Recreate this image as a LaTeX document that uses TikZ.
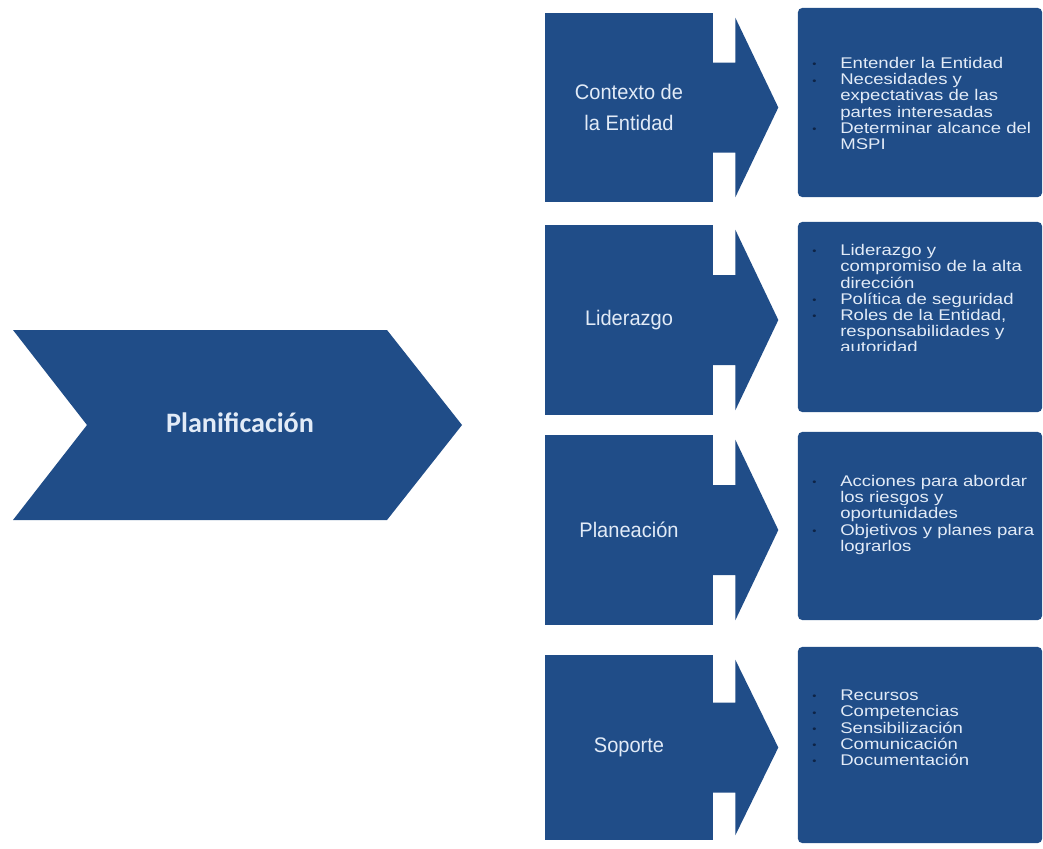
\documentclass[tikz,border=0pt]{standalone}
\usepackage{fontspec}
\setmainfont{Liberation Sans}
\newfontfamily\lblfont[FakeStretch=0.95]{Liberation Sans}
\newfontfamily\lstfont[FakeStretch=1.2]{Liberation Sans}
\newfontfamily\ttlfont{Carlito}
\usepackage{tikz}
\usetikzlibrary{calc}
\definecolor{stgclr}{RGB}{32,77,136}
\definecolor{txtclr}{RGB}{226,235,247}
\definecolor{dotclr}{RGB}{14,36,70}
\tikzset{ %
  ,stage/.style={fill=stgclr, inner sep=0, minimum width=4.2cm, text=txtclr, align=center, font=\lblfont\fontsize{15}{22}\selectfont}
  ,note/.style={fill=stgclr, rounded corners=3pt, inner sep=0, minimum width=6.1cm}
  ,items/.style={anchor=north west, inner sep=0, text=txtclr, font=\lstfont\fontsize{11}{11.5}\selectfont}
  ,title/.style={text=txtclr, font=\ttlfont\bfseries\fontsize{20}{24}\selectfont}
}
\newcommand{\bl}{\leavevmode\textcolor{dotclr}{\raisebox{0.5pt}{\scriptsize\textbullet}}}
\newcommand{\stgarrow}[1]{%
  \fill[stgclr] ($(#1.east)+(-4,-45)$) -- ($(#1.east)+(22,-45)$) -- ($(#1.north east)+(22,5)$)
    -- ($(#1.east)+(65,0)$) -- ($(#1.south east)+(22,-5)$) -- ($(#1.east)+(22,45)$) -- ($(#1.east)+(-4,45)$) -- cycle;}

\begin{document}
\begin{tikzpicture}[x=0.025cm, y=-0.025cm]
    \useasboundingbox (0,0) rectangle (1043,848);
    % chevron
    \fill[stgclr] (13,330) -- (387,330) -- (462,425) -- (387,520) -- (13,520) -- (87,425) -- cycle;
    \node[title] (plan) at (240,423) {Planificación};
    % stages
    \node[stage, minimum height=4.725cm] (ctx) at (629,107.5) {Contexto de\\la Entidad};
    \node[stage, minimum height=4.75cm] (lid) at (629,320) {Liderazgo};
    \node[stage, minimum height=4.75cm] (pla) at (629,530) {Planeación};
    \node[stage, minimum height=4.625cm] (sop) at (629,747.5) {Soporte};
    \stgarrow{ctx}
    \stgarrow{lid}
    \stgarrow{pla}
    \stgarrow{sop}
    % notes
    \node[note, minimum height=4.725cm] (ctxn) at (920,102.5) {};
    \node[note, minimum height=4.75cm] (lidn) at (920,317) {};
    \node[note, minimum height=4.7cm] (plan2) at (920,526) {};
    \node[note, minimum height=4.9cm] (sopn) at (920,745) {};
    \node[items] (ctxt) at (812,57) {\begin{tabular}{@{}p{0.7cm}@{}l@{}}
      \bl & Entender la Entidad\\
      \bl & Necesidades y\\
          & expectativas de las\\
          & partes interesadas\\
      \bl & Determinar alcance del\\
          & MSPI
    \end{tabular}};
    \begin{scope}
      \clip (800,230) rectangle (1040,350);
      \node[items] (lidt) at (812,244) {\begin{tabular}{@{}p{0.7cm}@{}l@{}}
        \bl & Liderazgo y\\
            & compromiso de la alta\\
            & dirección\\
        \bl & Política de seguridad\\
        \bl & Roles de la Entidad,\\
            & responsabilidades y\\
            & autoridad
      \end{tabular}};
    \end{scope}
    \node[items] (plat) at (812,475) {\begin{tabular}{@{}p{0.7cm}@{}l@{}}
      \bl & Acciones para abordar\\
          & los riesgos y\\
          & oportunidades\\
      \bl & Objetivos y planes para\\
          & lograrlos
    \end{tabular}};
    \node[items] (sopt) at (812,689) {\begin{tabular}{@{}p{0.7cm}@{}l@{}}
      \bl & Recursos\\
      \bl & Competencias\\
      \bl & Sensibilización\\
      \bl & Comunicación\\
      \bl & Documentación
    \end{tabular}};
\end{tikzpicture}
\end{document}
